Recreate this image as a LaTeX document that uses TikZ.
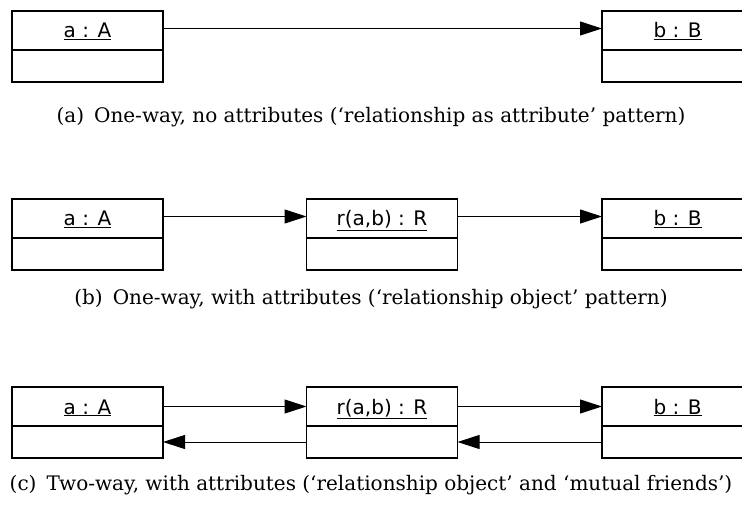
\documentclass[tikz,border=0pt]{standalone}
\usepackage{fontspec}
\newfontfamily\boxfont{DejaVu Sans}
\newfontfamily\capfont{DejaVu Serif}
\usetikzlibrary{arrows.meta}
\tikzset{
  objbox/.style={draw, line width=1.8pt, minimum width=151pt, minimum height=71pt, inner sep=0pt, outer sep=0pt},
  objlabel/.style={font=\boxfont\fontsize{20}{22}\selectfont, inner sep=0pt, anchor=base},
  divider/.style={line width=1.8pt},
  arr/.style={line width=1pt, -{Triangle[length=22pt,width=14pt]}},
  captext/.style={font=\capfont\fontsize{20}{23}\selectfont, inner sep=0pt, anchor=base},
}
\begin{document}
\begin{tikzpicture}[x=1pt,y=-1pt]
\useasboundingbox (0,0) rectangle (742,505);
\clip (0,0) rectangle (742,505);
% row a
\node[objbox] (a1) at (87.5,46.5) {};
\node[objbox] (b1) at (677.5,46.5) {};
\node[objlabel] (a1l) at (87.5,38) {\underline{a : A}};
\node[objlabel] (b1l) at (677.5,38) {\underline{b : B}};
\draw[divider] ([yshift=-3.5pt]a1.west) -- ([yshift=-3.5pt]a1.east);
\draw[divider] ([yshift=-3.5pt]b1.west) -- ([yshift=-3.5pt]b1.east);
\draw[arr] ([yshift=18pt]a1.east) -- ([yshift=18pt]b1.west);
\node[captext] (capa) at (371,123) {(a)\enspace One-way, no attributes (‘relationship as attribute’ pattern)};
% row b
\node[objbox] (a2) at (87.5,234.5) {};
\node[objbox] (r2) at (382,234.5) {};
\node[objbox] (b2) at (677.5,234.5) {};
\node[objlabel] (a2l) at (87.5,226) {\underline{a : A}};
\node[objlabel] (r2l) at (382,226) {\underline{r(a,b) : R}};
\node[objlabel] (b2l) at (677.5,226) {\underline{b : B}};
\foreach \n in {a2,r2,b2}{\draw[divider] ([yshift=-3.5pt]\n.west) -- ([yshift=-3.5pt]\n.east);}
\draw[arr] ([yshift=18pt]a2.east) -- ([yshift=18pt]r2.west);
\draw[arr] ([yshift=18pt]r2.east) -- ([yshift=18pt]b2.west);
\node[captext] (capb) at (371,305) {(b)\enspace One-way, with attributes (‘relationship object’ pattern)};
% row c
\node[objbox] (a3) at (87.5,422.5) {};
\node[objbox] (r3) at (382,422.5) {};
\node[objbox] (b3) at (677.5,422.5) {};
\node[objlabel] (a3l) at (87.5,414) {\underline{a : A}};
\node[objlabel] (r3l) at (382,414) {\underline{r(a,b) : R}};
\node[objlabel] (b3l) at (677.5,414) {\underline{b : B}};
\foreach \n in {a3,r3,b3}{\draw[divider] ([yshift=-3.5pt]\n.west) -- ([yshift=-3.5pt]\n.east);}
\draw[arr] ([yshift=16pt]a3.east) -- ([yshift=16pt]r3.west);
\draw[arr] ([yshift=16pt]r3.east) -- ([yshift=16pt]b3.west);
\draw[arr] ([yshift=-19.5pt]r3.west) -- ([yshift=-19.5pt]a3.east);
\draw[arr] ([yshift=-19.5pt]b3.west) -- ([yshift=-19.5pt]r3.east);
\node[captext] (capc) at (371,490) {(c)\enspace Two-way, with attributes (‘relationship object’ and ‘mutual friends’)};
\end{tikzpicture}
\end{document}
